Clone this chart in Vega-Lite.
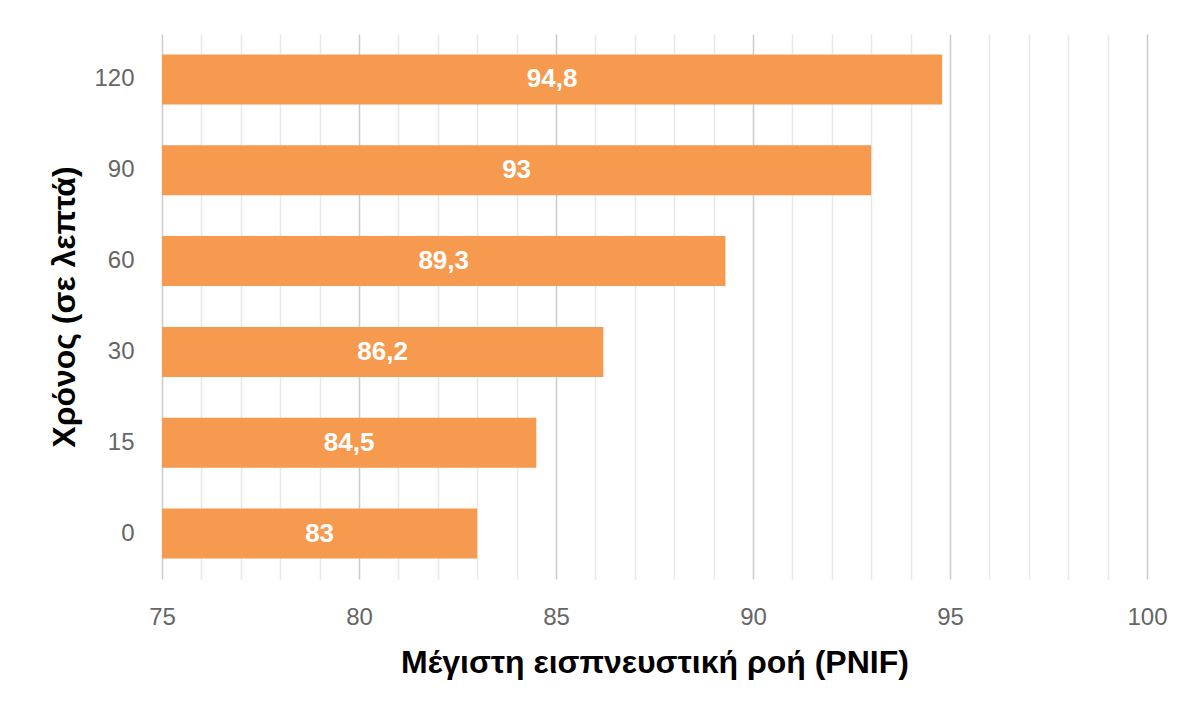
{
  "$schema": "https://vega.github.io/schema/vega-lite/v6.json",
  "width": 985,
  "height": 545,
  "autosize": {"type": "none"},
  "padding": {"left": 162, "top": 34, "right": 53, "bottom": 138},
  "background": "white",
  "config": {
    "view": {"stroke": null},
    "locale": {"number": {"decimal": ",", "thousands": ".", "grouping": [3], "currency": ["", " €"]}}
  },
  "data": {
    "values": [
      {"time": "0", "order": 0, "pnif": 83},
      {"time": "15", "order": 15, "pnif": 84.5},
      {"time": "30", "order": 30, "pnif": 86.2},
      {"time": "60", "order": 60, "pnif": 89.3},
      {"time": "90", "order": 90, "pnif": 93},
      {"time": "120", "order": 120, "pnif": 94.8}
    ]
  },
  "transform": [{"calculate": "(datum.pnif + 75) / 2", "as": "mid"}],
  "encoding": {
    "y": {
      "field": "time",
      "type": "ordinal",
      "sort": {"field": "order", "order": "descending"},
      "scale": {"paddingInner": 0.45, "paddingOuter": 0.225},
      "axis": {
        "title": "Χρόνος (σε λεπτά)",
        "titleFont": "Liberation Sans",
        "titleFontSize": 32,
        "titleFontWeight": "bold",
        "titleColor": "#000000",
        "titlePadding": 12,
        "labelFont": "Liberation Sans",
        "labelFontSize": 24,
        "labelColor": "#666666",
        "labelPadding": 28,
        "ticks": false,
        "domain": false,
        "grid": false
      }
    }
  },
  "layer": [
    {
      "mark": {"type": "bar", "color": "#F59A4E"},
      "encoding": {
        "x": {
          "field": "pnif",
          "type": "quantitative",
          "scale": {"domain": [75, 100], "zero": false, "nice": false},
          "axis": {
            "title": "Μέγιστη εισπνευστική ροή (PNIF)",
            "titleFont": "Liberation Sans",
            "titleFontSize": 32,
            "titleFontWeight": "bold",
            "titleColor": "#000000",
            "titlePadding": 18,
            "values": [75,76,77,78,79,80,81,82,83,84,85,86,87,88,89,90,91,92,93,94,95,96,97,98,99,100],
            "tickCount": 40,
            "format": "d",
            "labelExpr": "datum.value % 5 === 0 ? datum.label : ''",
            "labelOverlap": false,
            "labelFont": "Liberation Sans",
            "labelFontSize": 24,
            "labelColor": "#666666",
            "labelPadding": 26,
            "labelFlush": false,
            "ticks": false,
            "domain": false,
            "grid": true,
            "gridColor": {"condition": {"test": "datum.value % 5 === 0", "value": "#cccccc"}, "value": "#e8e8e8"},
            "gridWidth": 1.5
          }
        },
        "x2": {"datum": 75}
      }
    },
    {
      "mark": {"type": "text", "color": "white", "fontWeight": "bold", "fontSize": 26, "font": "Liberation Sans", "baseline": "middle", "align": "center"},
      "encoding": {
        "x": {"field": "mid", "type": "quantitative"},
        "text": {"field": "pnif", "type": "quantitative", "format": "~g"}
      }
    }
  ]
}
